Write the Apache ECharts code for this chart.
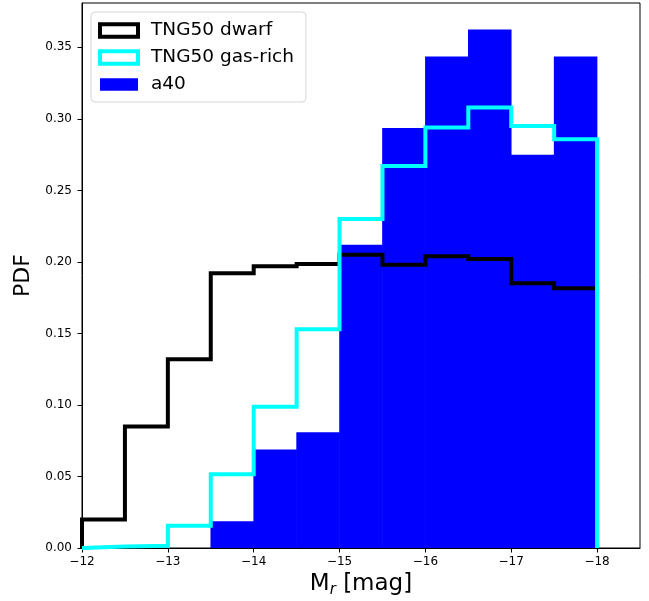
<!DOCTYPE html>
<html><head><meta charset="utf-8">
<script src="https://cdn.jsdelivr.net/npm/echarts@6/dist/echarts.min.js"></script>
<style>html,body{margin:0;padding:0;background:#fff}#c{width:649px;height:601px}</style>
</head><body><div id="c"></div>
<script>
const binEdges = [-12, -12.5, -13, -13.5, -14, -14.5, -15, -15.5, -16, -16.5, -17, -17.5, -18];
const dwarf = [0.020, 0.085, 0.132, 0.192, 0.197, 0.1985, 0.205, 0.198, 0.204, 0.202, 0.185, 0.1815];
const gasRich = [0.001, 0.0015, 0.0155, 0.0515, 0.0988, 0.153, 0.230, 0.267, 0.294, 0.308, 0.295, 0.2858];
const a40 = [0, 0, 0, 0.0187, 0.0688, 0.081, 0.212, 0.2937, 0.3436, 0.3625, 0.275, 0.3436];
const xTicks = [-12, -13, -14, -15, -16, -17, -18];
const yTicks = [0, 0.05, 0.10, 0.15, 0.20, 0.25, 0.30, 0.35];
const names = ['TNG50 dwarf', 'TNG50 gas-rich', 'a40'];

function stepPoints(vals) {
  const pts = [[binEdges[0], 0]];
  vals.forEach((v, i) => { pts.push([binEdges[i], v]); pts.push([binEdges[i + 1], v]); });
  pts.push([binEdges[binEdges.length - 1], 0]);
  return pts;
}
const barData = [];
a40.forEach((v, i) => { if (v > 0) barData.push([binEdges[i], binEdges[i + 1], v]); });

const FONT = 'DejaVu Sans';
const chart = echarts.init(document.getElementById('c'), null, {renderer: 'canvas'});
chart.setOption({
  animation: false,
  backgroundColor: '#fff',
  grid: {left: 82, right: 9, top: 3, bottom: 53, containLabel: false, outerBoundsMode: 'none',
         show: true, borderColor: '#000', borderWidth: 1, backgroundColor: 'transparent'},
  legend: {
    orient: 'vertical', left: 91, top: 12,
    padding: [9, 12, 8, 7],
    itemGap: 8, itemWidth: 38, itemHeight: 12.5,
    backgroundColor: 'rgba(255,255,255,0.8)', borderColor: '#d6d6d6', borderWidth: 1, borderRadius: 4,
    textStyle: {fontSize: 18.5, fontFamily: FONT, color: '#000', padding: [0, 0, 0, 8]},
    data: [
      {name: names[0], icon: 'rect', itemStyle: {color: '#fff', borderColor: '#000', borderWidth: 4}},
      {name: names[1], icon: 'rect', itemStyle: {color: '#fff', borderColor: '#00ffff', borderWidth: 4}},
      {name: names[2], icon: 'rect', itemStyle: {color: '#0000ff', borderWidth: 0}}
    ]
  },
  xAxis: {
    type: 'value', min: -18.5, max: -12, inverse: true,
    name: '{a|M}{b|r}{a| [mag]}', nameLocation: 'middle', nameGap: 25,
    nameTextStyle: {rich: {
      a: {fontSize: 23, fontFamily: FONT, color: '#000', lineHeight: 24, verticalAlign: 'top'},
      b: {fontSize: 15, fontFamily: FONT, fontStyle: 'italic', color: '#000', lineHeight: 16, verticalAlign: 'top', padding: [10, 0, 0, 0]}
    }},
    axisLine: {show: true, onZero: false, lineStyle: {color: '#000', width: 1}},
    axisTick: {show: true, length: 4.5, lineStyle: {color: '#000', width: 1}, customValues: xTicks},
    axisLabel: {customValues: xTicks, margin: 8, fontSize: 12, fontFamily: FONT, color: '#000',
                formatter: v => (v < 0 ? '\u2212' : '') + Math.abs(v)},
    splitLine: {show: false}
  },
  yAxis: {
    type: 'value', min: 0, max: 0.381,
    name: 'PDF', nameLocation: 'middle', nameGap: 42, nameRotate: 90,
    nameTextStyle: {fontSize: 22, fontFamily: FONT, color: '#000'},
    axisLine: {show: true, onZero: false, lineStyle: {color: '#000', width: 1}},
    axisTick: {show: true, length: 4.5, lineStyle: {color: '#000', width: 1}, customValues: yTicks},
    axisLabel: {customValues: yTicks, margin: 10, fontSize: 12, fontFamily: FONT, color: '#000',
                formatter: v => v.toFixed(2)},
    splitLine: {show: false}
  },
  series: [
    {
      name: names[2], type: 'custom', z: 1,
      data: barData,
      encode: {x: [0, 1], y: 2},
      renderItem: (params, api) => {
        const p0 = api.coord([api.value(0), api.value(2)]);
        const p1 = api.coord([api.value(1), 0]);
        return {type: 'rect',
          shape: {x: Math.min(p0[0], p1[0]) - 0.3, y: p0[1], width: Math.abs(p1[0] - p0[0]) + 0.6, height: p1[1] - p0[1]},
          style: {fill: '#0000ff'}};
      },
      itemStyle: {color: '#0000ff'}
    },
    {
      name: names[0], type: 'line', z: 2, data: stepPoints(dwarf), symbol: 'none', showSymbol: false,
      lineStyle: {color: '#000', width: 4, join: 'miter', cap: 'butt'}, itemStyle: {color: '#000'}
    },
    {
      name: names[1], type: 'line', z: 3, data: stepPoints(gasRich), symbol: 'none', showSymbol: false,
      lineStyle: {color: '#00ffff', width: 4, join: 'miter', cap: 'butt'}, itemStyle: {color: '#00ffff'}
    }
  ]
});
</script>
</body></html>
